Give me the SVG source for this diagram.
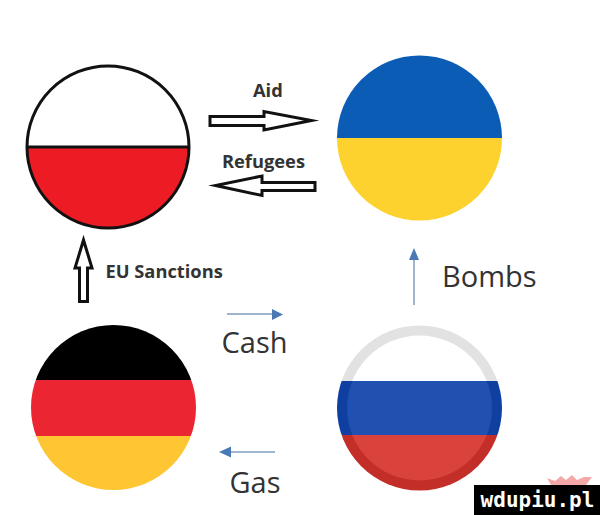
<svg xmlns="http://www.w3.org/2000/svg" width="600" height="515" viewBox="0 0 600 515">
<style>
.l{font-family:"Open Sans","Noto Sans",sans-serif;font-weight:700;fill:#333;font-size:18.3px}
.b{font-family:"Open Sans","Noto Sans",sans-serif;fill:#333;font-size:29px}
.o{fill:#fff;stroke:#111;stroke-width:3;stroke-linejoin:miter;stroke-miterlimit:10}
.c{stroke:#7f9bbd;stroke-width:1.5;fill:none}
.h{fill:#4a7ab5}
</style>
<defs>
<clipPath id="cu"><circle cx="419.5" cy="138" r="82.5"/></clipPath>
<clipPath id="cg"><circle cx="113.5" cy="407.5" r="82.5"/></clipPath>
<clipPath id="cr"><circle cx="419.5" cy="408" r="82.5"/></clipPath>
<clipPath id="ci"><circle cx="419.5" cy="408" r="72.5"/></clipPath>
</defs>
<rect width="600" height="515" fill="#fff"/>
<g id="poland">
<path d="M27 147a81 81 0 0 1 162 0z" fill="#fff"/>
<path d="M27 147a81 81 0 0 0 162 0z" fill="#ed1c24"/>
<circle cx="108" cy="147" r="81" fill="none" stroke="#111" stroke-width="3"/>
<line x1="27" y1="147" x2="189" y2="147" stroke="#111" stroke-width="3"/>
</g>
<g id="ukraine" clip-path="url(#cu)">
<rect x="336" y="55" width="168" height="83" fill="#0b5cb5"/>
<rect x="336" y="138" width="168" height="83" fill="#fdd22f"/>
</g>
<g id="germany" clip-path="url(#cg)">
<rect x="30" y="324" width="168" height="56" fill="#000"/>
<rect x="30" y="380" width="168" height="56" fill="#ec2533"/>
<rect x="30" y="436" width="168" height="55" fill="#fdc632"/>
</g>
<g id="russia">
<g clip-path="url(#cr)">
<rect x="336" y="325" width="168" height="56" fill="#e2e2e2"/>
<rect x="336" y="381" width="168" height="54" fill="#0f3fa0"/>
<rect x="336" y="435" width="168" height="56" fill="#c42e28"/>
</g>
<g clip-path="url(#ci)">
<rect x="346" y="335" width="148" height="46" fill="#fff"/>
<rect x="346" y="381" width="148" height="54" fill="#2050b0"/>
<rect x="346" y="435" width="148" height="47" fill="#d9433c"/>
</g>
</g>
<g id="connectors">
<path class="o" d="M210 116.500H264V111.500L311.500 120.500L264 130V125.500H210z"/>
<path class="o" d="M315 182.500H262V176L215.500 185.500L262 195.500V190.500H315z"/>
<path class="o" d="M79.500 301.500V268H75L83.500 240L92 268H87.500V301.500z"/>
<line class="c" x1="227" y1="314" x2="274" y2="314"/><path class="h" d="M272 309L283 314.500L272 320z"/>
<line class="c" x1="275" y1="452" x2="229" y2="452"/><path class="h" d="M231 446.500L219 452L231 457.500z"/>
<line class="c" x1="414" y1="305" x2="414" y2="258"/><path class="h" d="M409 260L414 248L419 260z"/>
</g>
<text class="l" x="253" y="97">Aid</text>
<text class="l" x="222" y="168">Refugees</text>
<text class="l" x="105.500" y="278">EU Sanctions</text>
<text class="b" x="442" y="287">Bombs</text>
<text class="b" x="221.500" y="353">Cash</text>
<text class="b" x="229.500" y="493">Gas</text>
<g id="watermark">
<path d="M547 478l8 3 6-5 5 4 6-5 5 5 7-3 8 0-6 8h-35z" fill="#f5a8a8"/>
<rect x="474" y="485" width="126" height="30" fill="#000"/>
<text x="537.500" y="507" text-anchor="middle" fill="#fff" font-family="'DejaVu Sans Mono',monospace" font-weight="700" font-size="21">wdupiu.pl</text>
</g>
</svg>
